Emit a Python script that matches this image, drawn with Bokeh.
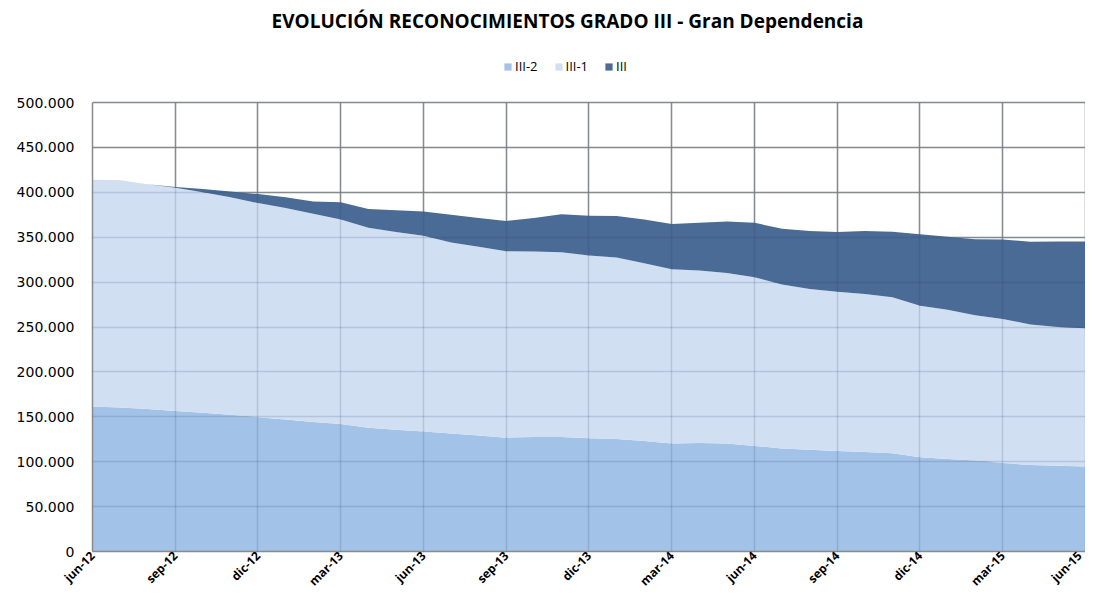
from bokeh.plotting import figure
from bokeh.models import ColumnDataSource, FixedTicker, Legend, LegendItem, Grid, Range1d, Label
from bokeh.embed import file_html
from bokeh.resources import INLINE
import math

months = ["jun-12", "jul-12", "ago-12", "sep-12", "oct-12", "nov-12", "dic-12",
          "ene-13", "feb-13", "mar-13", "abr-13", "may-13", "jun-13", "jul-13",
          "ago-13", "sep-13", "oct-13", "nov-13", "dic-13", "ene-14", "feb-14",
          "mar-14", "abr-14", "may-14", "jun-14", "jul-14", "ago-14", "sep-14",
          "oct-14", "nov-14", "dic-14", "ene-15", "feb-15", "mar-15", "abr-15",
          "may-15", "jun-15"]

grado_iii_2 = [161500, 160400, 158600, 156400, 154500, 152300, 149400, 146900,
               144300, 142100, 137700, 135600, 133700, 131500, 129300, 126800,
               127500, 127500, 126000, 125300, 123000, 120200, 120900, 120200,
               117600, 114700, 113200, 111800, 110700, 109300, 104900, 103000,
               101200, 98600, 96400, 95400, 94600]

grado_iii_1 = [252500, 253100, 250400, 248600, 245500, 242300, 238600, 235600,
               231700, 227600, 222900, 220300, 217800, 212500, 210100, 207500,
               206500, 205700, 203500, 202100, 198000, 194000, 192100, 189800,
               187800, 182500, 179100, 177500, 176100, 173700, 168700, 166300,
               161800, 160400, 156400, 154500, 153900]

grado_iii = [0, 0, 0, 1000, 3600, 6200, 10000, 12100, 13800, 19300, 20800,
             24100, 27000, 31000, 32100, 33700, 37500, 42400, 44500, 46300,
             48700, 50400, 53000, 57500, 60600, 62300, 64700, 66600, 70200,
             73200, 79700, 81100, 84800, 88400, 92200, 95300, 96700]

series_names = ["III-2", "III-1", "III"]
series_colors = ["#A3C2E8", "#D1DFF2", "#4A6B96"]

y_max = 500000
y_ticks = list(range(0, y_max + 1, 50000))
y_tick_labels = ["0", "50.000", "100.000", "150.000", "200.000", "250.000",
                 "300.000", "350.000", "400.000", "450.000", "500.000"]
title_text = "EVOLUCIÓN RECONOCIMIENTOS GRADO III - Gran Dependencia"

# layout (pixels): the frame spans the canvas height above the x axis;
# the value axis uses its lower part, title and legend sit above it.
H, W = 598, 1085
BOTTOM, LEFT = 47, 92
FRAME_H = H - BOTTOM
PLOT_TOP = 102
PLOT_H = FRAME_H - PLOT_TOP
y_end = y_max * FRAME_H / PLOT_H

x = list(range(len(months)))
source = ColumnDataSource(dict(x=x, **{"III-2": grado_iii_2, "III-1": grado_iii_1, "III": grado_iii}))

p = figure(width=W, height=H, output_backend="svg", toolbar_location=None,
           x_range=Range1d(0, len(months) - 1 + 0.001), y_range=Range1d(0, y_end),
           min_border_left=LEFT, min_border_right=0, min_border_bottom=BOTTOM,
           min_border_top=0, title=None)

renderers = p.varea_stack(series_names, x="x", color=series_colors, source=source)

items = [LegendItem(label=n, renderers=[r]) for n, r in zip(series_names, renderers)]
legend = Legend(items=items, orientation="horizontal", location=(411, FRAME_H - 75),
                label_text_font="Open Sans", label_text_font_size="13px",
                label_text_color="#000000",
                glyph_width=9, glyph_height=9, label_standoff=3, spacing=16,
                padding=2, margin=0, label_height=14, border_line_color=None,
                background_fill_alpha=0)
p.add_layout(legend, "center")

p.add_layout(Label(x=475, y=FRAME_H - 20, x_units="screen", y_units="screen",
                   text=title_text, text_font="Open Sans", text_font_style="bold",
                   text_font_size="19px", text_color="#000000",
                   text_align="center", text_baseline="middle"))

xt = list(range(0, len(months), 3))
has_cross = "cross_bounds" in Grid.properties()

# grid: under (grey) and faint overlay like Excel
p.xgrid.ticker = FixedTicker(ticks=xt)
p.ygrid.ticker = FixedTicker(ticks=y_ticks)
for g in (p.xgrid[0], p.ygrid[0]):
    g.grid_line_color = "#9a9a9a"
    g.grid_line_width = 1.5
    g.grid_line_alpha = 1.0

ov_x = Grid(dimension=0, ticker=FixedTicker(ticks=xt),
            grid_line_color="#1f3d66", grid_line_alpha=0.16, grid_line_width=1.5, level="overlay")
ov_y = Grid(dimension=1, ticker=FixedTicker(ticks=y_ticks),
            grid_line_color="#1f3d66", grid_line_alpha=0.16, grid_line_width=1.5, level="overlay")
p.add_layout(ov_x)
p.add_layout(ov_y)

if has_cross:
    p.xgrid[0].cross_bounds = (0, y_max)
    ov_x.cross_bounds = (0, y_max)
else:
    p.xgrid[0].visible = False
    ov_x.visible = False
    p.segment(x0=xt, y0=[0] * len(xt), x1=xt, y1=[y_max] * len(xt),
              line_color="#9a9a9a", line_width=1.5, level="underlay")
    p.segment(x0=xt, y0=[0] * len(xt), x1=xt, y1=[y_max] * len(xt),
              line_color="#1f3d66", line_alpha=0.16, line_width=1.5, level="overlay")

p.yaxis.ticker = FixedTicker(ticks=y_ticks)
p.yaxis.bounds = (0, y_max)
p.yaxis.major_label_overrides = {t: l for t, l in zip(y_ticks, y_tick_labels)}
p.yaxis.major_label_text_font = "DejaVu Sans"
p.yaxis.major_label_text_font_size = "14px"
p.yaxis.major_label_text_color = "#000000"
p.yaxis.axis_line_color = "#8a8a8a"
p.yaxis.axis_line_width = 1.5
p.yaxis.major_tick_line_color = None
p.yaxis.minor_tick_line_color = None
p.yaxis.major_tick_out = 0
p.yaxis.major_tick_in = 0
p.yaxis.major_label_standoff = 18

p.xaxis.ticker = FixedTicker(ticks=xt)
p.xaxis.major_label_overrides = {t: months[t] for t in xt}
p.xaxis.major_label_orientation = math.pi / 4
p.xaxis.major_label_text_font = "Open Sans"
p.xaxis.major_label_text_font_style = "bold"
p.xaxis.major_label_text_font_size = "12px"
p.xaxis.major_label_text_color = "#000000"
p.xaxis.axis_line_color = "#8a8a8a"
p.xaxis.axis_line_width = 1.5
p.xaxis.major_tick_line_color = None
p.xaxis.minor_tick_line_color = None
p.xaxis.major_tick_out = 0
p.xaxis.major_tick_in = 0
p.xaxis.major_label_standoff = 2

p.outline_line_color = None
p.background_fill_color = "#ffffff"
p.border_fill_color = "#ffffff"

open("out.html", "w").write(file_html(p, INLINE))
